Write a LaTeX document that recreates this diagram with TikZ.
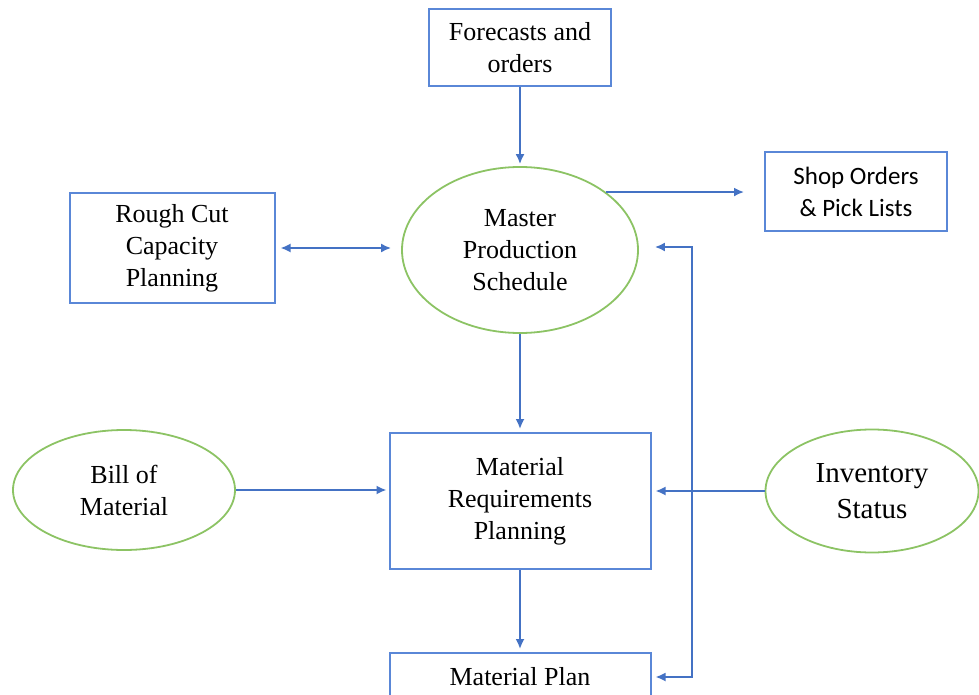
\documentclass[tikz,border=0pt]{standalone}
\usepackage{fontspec}
\setmainfont{Liberation Serif}
\newfontfamily\shopfont{Carlito}
\usetikzlibrary{positioning, calc, arrows.meta, shapes.geometric}
\definecolor{lineblue}{RGB}{68,114,196}
\definecolor{boxblue}{RGB}{90,135,215}
\definecolor{ellgreen}{RGB}{140,195,100}

\begin{document}
\begin{tikzpicture}[x=0.5pt, y=-0.5pt,
    box/.style={draw=boxblue, line width=1pt, align=center, inner sep=0pt,
      font=\fontsize{13}{16}\selectfont},
    oval/.style={ellipse, draw=ellgreen, line width=0.9pt, align=center, inner sep=0pt,
      font=\fontsize{13}{16}\selectfont},
    flow/.style={draw=lineblue, line width=0.9pt, -{Latex[length=5pt,width=4.5pt]}}]
  \useasboundingbox (0,0) rectangle (979,695);
  \clip (0,0) rectangle (979,695);
  % boxes
  \node[box, minimum width=91pt, minimum height=38.5pt] (fore) at (520,48) {Forecasts and\\orders};
  \node[box, minimum width=91pt, minimum height=39.5pt, font=\shopfont\fontsize{12.5}{16}\selectfont] (shop) at (856,192) {Shop Orders\\\& Pick Lists};
  \node[box, minimum width=102.5pt, minimum height=55pt] (rough) at (172,248) {Rough Cut\\Capacity\\Planning};
  \node[box, minimum width=130.5pt, minimum height=68pt] (mrp) at (520,501) {Material\\Requirements\\Planning};
  \node[box, minimum width=130.5pt, minimum height=24pt] (plan) at (520,677) {Material Plan};
  % ellipses
  \node[oval, minimum width=118pt, minimum height=83pt] (mps) at (520,250) {Master\\Production\\Schedule};
  \node[oval, minimum width=111pt, minimum height=60pt] (bom) at (124,490) {Bill of\\Material};
  \node[oval, minimum width=106.5pt, minimum height=61.5pt, font=\fontsize{14.5}{18}\selectfont] (inv) at (872,491) {Inventory\\Status};
  \coordinate (fb) at (692,400);
  % connectors
  \draw[flow, shorten >=1pt] (fore) -- (mps);
  \draw[flow, shorten >=10pt] (mps.34) -- (mps.34 -| shop.west);
  \draw[flow, {Latex[length=5pt,width=4.5pt]}-{Latex[length=5pt,width=4.5pt]}, shorten <=2.5pt, shorten >=5pt] (rough.east) -- (rough.east -| mps.west);
  \draw[flow, shorten >=1.5pt] (mps) -- (mrp);
  \draw[flow, shorten >=1pt] (bom.east) -- (bom.east -| mrp.west);
  \draw[flow, shorten >=2pt] (inv.west) -- (inv.west -| mrp.east);
  \draw[flow, shorten >=1.5pt] (mrp) -- (plan);
  \draw[flow, {Latex[length=5pt,width=4.5pt]}-{Latex[length=5pt,width=4.5pt]}, shorten <=2pt, shorten >=8pt] (plan.east) -- (plan.east -| fb) |- ($(mps.east)+(0,-3)$);
\end{tikzpicture}
\end{document}
